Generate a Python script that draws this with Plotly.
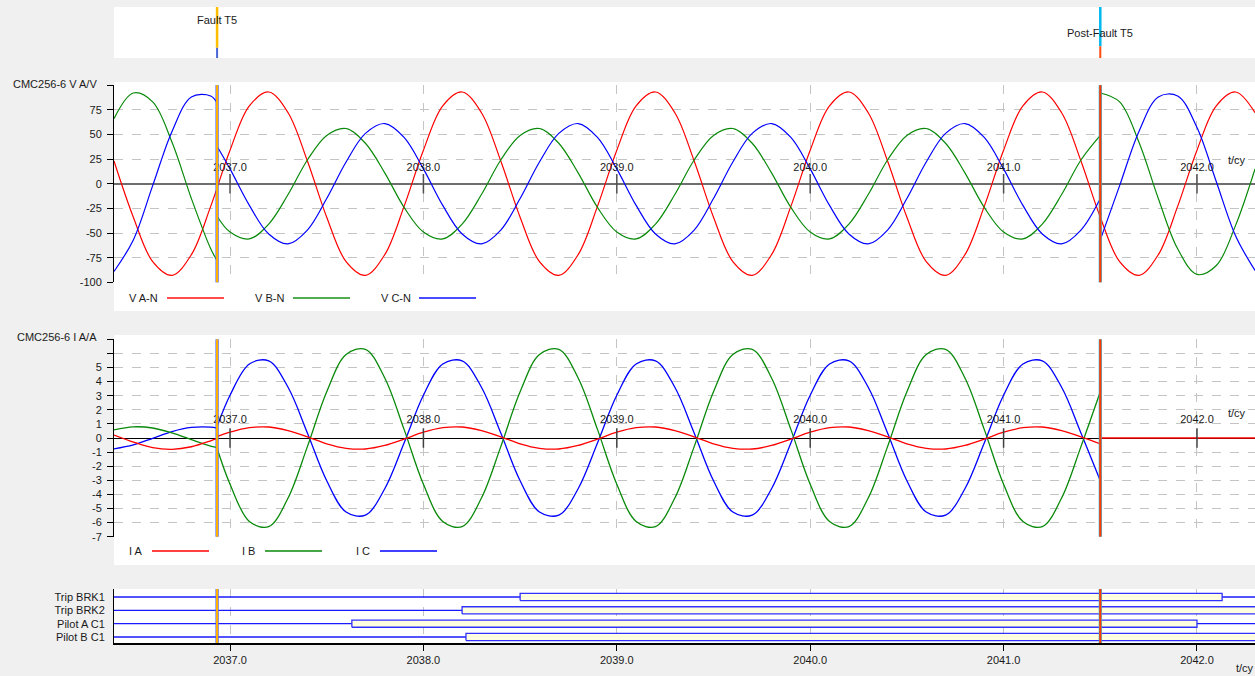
import plotly.graph_objects as go

W, H = 1255, 676

# ---- time base (cycles) ----
T_START, T_END, DT = 2036.4, 2042.3, 0.1
FAULT_T = 2036.933
POST_T = 2041.5

X_TICKS = [2037.0, 2038.0, 2039.0, 2040.0, 2041.0, 2042.0]
X_TICK_TEXT = ["2037.0", "2038.0", "2039.0", "2040.0", "2041.0", "2042.0"]
V_TICKS = [-100, -75, -50, -25, 0, 25, 50, 75, 100]
V_TICK_TEXT = ["-100", "-75", "-50", "-25", "0", "25", "50", "75", ""]
I_TICKS = [-7, -6, -5, -4, -3, -2, -1, 0, 1, 2, 3, 4, 5, 6, 7]
I_TICK_TEXT = ["-7", "-6", "-5", "-4", "-3", "-2", "-1", "0", "1", "2", "3", "4", "5", "", ""]

# ---- voltages, V (samples every 0.1 cycle) ----
VA = [23, -34, -79, -93, -72, -23, 34, 79, 93, 72,
      23, -34, -79, -93, -72, -23, 34, 79, 93, 72,
      23, -34, -79, -93, -72, -23, 34, 79, 93, 72,
      23, -34, -79, -93, -72, -23, 34, 79, 93, 72,
      23, -34, -79, -93, -72, -23, 34, 79, 93, 72,
      23, -34, -79, -93, -72, -23, 34, 79, 93, 72]

VB_PRE = [66, 92, 83, 42, -15, -66, -78]
VB_FAULT = [-33,
            -49, -56, -41, -11, 24, 49, 56, 41, 11, -24,
            -49, -56, -41, -11, 24, 49, 56, 41, 11, -24,
            -49, -56, -41, -11, 24, 49, 56, 41, 11, -24,
            -49, -56, -41, -11, 24, 49, 56, 41, 11, -24,
            -49, -56, -41, -11, 24, 49]
VB_POST = [92, 83, 42, -15, -66, -92, -83, -42, 15]

VC_PRE = [-89, -57, -2, 53, 88, 89, 82]
VC_FAULT = [38,
            15, -22, -51, -61, -47, -15, 22, 51, 61, 47,
            15, -22, -51, -61, -47, -15, 22, 51, 61, 47,
            15, -22, -51, -61, -47, -15, 22, 51, 61, 47,
            15, -22, -51, -61, -47, -15, 22, 51, 61, 47,
            15, -22, -51, -61, -47, -15]
VC_POST = [-57, -2, 53, 88, 89, 57, 2, -53, -88]

# ---- currents, A ----
IA_PRE = [0.20, -0.29, -0.68, -0.80, -0.62, -0.20, -0.03]
IA_FAULT = [0.09,
            0.41, 0.73, 0.78, 0.53, 0.08, -0.41, -0.73, -0.78, -0.53, -0.08,
            0.41, 0.73, 0.78, 0.53, 0.08, -0.41, -0.73, -0.78, -0.53, -0.08,
            0.41, 0.73, 0.78, 0.53, 0.08, -0.41, -0.73, -0.78, -0.53, -0.08,
            0.41, 0.73, 0.78, 0.53, 0.08, -0.41, -0.73, -0.78, -0.53, -0.08,
            0.41, 0.73, 0.78, 0.53, 0.08, -0.41]
IA_POST = [0, 0, 0, 0, 0, 0, 0, 0, 0]

IB_PRE = [0.57, 0.79, 0.71, 0.36, -0.12, -0.57, -0.67]
IB_FAULT = [-0.73,
            -3.28, -5.92, -6.29, -4.26, -0.61, 3.28, 5.92, 6.29, 4.26, 0.61,
            -3.28, -5.92, -6.29, -4.26, -0.61, 3.28, 5.92, 6.29, 4.26, 0.61,
            -3.28, -5.92, -6.29, -4.26, -0.61, 3.28, 5.92, 6.29, 4.26, 0.61,
            -3.28, -5.92, -6.29, -4.26, -0.61, 3.28, 5.92, 6.29, 4.26, 0.61,
            -3.28, -5.92, -6.29, -4.26, -0.61, 3.28]

IC_PRE = [-0.77, -0.49, -0.02, 0.46, 0.75, 0.77, 0.70]
IC_FAULT = [0.81,
            3.03, 5.25, 5.47, 3.60, 0.36, -3.03, -5.25, -5.47, -3.60, -0.36,
            3.03, 5.25, 5.47, 3.60, 0.36, -3.03, -5.25, -5.47, -3.60, -0.36,
            3.03, 5.25, 5.47, 3.60, 0.36, -3.03, -5.25, -5.47, -3.60, -0.36,
            3.03, 5.25, 5.47, 3.60, 0.36, -3.03, -5.25, -5.47, -3.60, -0.36,
            3.03, 5.25, 5.47, 3.60, 0.36, -3.03]

# ---- binary channels ----
BIN_NAMES = ["Trip BRK1", "Trip BRK2", "Pilot A C1", "Pilot B C1"]
BIN_ON = [2038.50, 2038.20, 2037.63, 2038.22]
BIN_OFF = [2042.13, None, 2042.00, None]   # None: still set at end of record

RED, GREEN, BLUE = "#ff0000", "#0a8a0a", "#0000ff"
FONT = "Liberation Sans, Arial, sans-serif"
TXT = "#1a1a1a"

# sample clock and segment helpers
N = int(round((T_END - T_START) / DT)) + 1
clock = [round(T_START + k * DT, 3) for k in range(N)]


def span(t0, t1):
    return [t0] + [t for t in clock if t0 < t < t1] + [t1]


def join(*parts):
    xs, ys = [], []
    for i, (t, v) in enumerate(parts):
        assert len(t) == len(v), (len(t), len(v))
        if i:
            xs.append(None)
            ys.append(None)
        xs += list(t)
        ys += list(v)
    return xs, ys


pre, flt, post = span(T_START, FAULT_T), span(FAULT_T, POST_T), span(POST_T, T_END)

volt = [
    ("V A-N", RED, (list(clock), VA)),
    ("V B-N", GREEN, join((pre, VB_PRE), (flt, VB_FAULT), (post, VB_POST))),
    ("V C-N", BLUE, join((pre, VC_PRE), (flt, VC_FAULT), (post, VC_POST))),
]
curr = [
    ("I A", RED, join((pre, IA_PRE), (flt, IA_FAULT), (post, IA_POST))),
    ("I B", GREEN, join((pre, IB_PRE), (flt, IB_FAULT))),
    ("I C", BLUE, join((pre, IC_PRE), (flt, IC_FAULT))),
]

fig = go.Figure()

for name, col, (xs, ys) in volt:
    fig.add_trace(go.Scatter(x=xs, y=ys, mode="lines", name=name, xaxis="x2", yaxis="y2",
                             line=dict(color=col, width=1.2, shape="spline"),
                             showlegend=False, hoverinfo="skip"))
for name, col, (xs, ys) in curr[::-1]:
    fig.add_trace(go.Scatter(x=xs, y=ys, mode="lines", name=name, xaxis="x3", yaxis="y3",
                             line=dict(color=col, width=1.3, shape="spline"),
                             showlegend=False, hoverinfo="skip"))

# tick marks crossing the time axis at zero
for xa, ya, col in (("x2", "y2", "#505050"), ("x3", "y3", "#404040")):
    fig.add_trace(go.Scatter(x=X_TICKS, y=[0] * len(X_TICKS), mode="markers", xaxis=xa, yaxis=ya,
                             marker=dict(symbol="line-ns", size=14, line=dict(color=col, width=1.5)),
                             showlegend=False, hoverinfo="skip"))

# binary channels: blue line when reset, framed yellow bar when set
HALF = 0.27
for i, (name, t_on, t_off) in enumerate(zip(BIN_NAMES, BIN_ON, BIN_OFF)):
    row = len(BIN_NAMES) - 1 - i
    lx, ly = [T_START, t_on], [row, row]
    if t_off is not None:
        lx += [None, t_off, T_END]
        ly += [None, row, row]
    fig.add_trace(go.Scatter(x=lx, y=ly, mode="lines", xaxis="x4", yaxis="y4",
                             line=dict(color="#1a1aff", width=1.3),
                             showlegend=False, hoverinfo="skip"))
    t_end = t_off if t_off is not None else T_END + 0.1
    fig.add_trace(go.Scatter(x=[t_on, t_end, t_end, t_on, t_on],
                             y=[row - HALF, row - HALF, row + HALF, row + HALF, row - HALF],
                             mode="lines", fill="toself", fillcolor="#ffffe0",
                             xaxis="x4", yaxis="y4", line=dict(color="#3030ff", width=1.3),
                             showlegend=False, hoverinfo="skip"))


def yp(px):
    return 1 - px / H


XDOM = [114 / W, 1.0]
tickfont = dict(family=FONT, size=11, color=TXT)
grid = dict(showgrid=True, gridcolor="#c4c4c4", griddash="dash", gridwidth=1)

V_DOM = [yp(282.3), yp(85.1)]
I_DOM = [yp(536.7), yp(339.3)]
B_DOM = [yp(643), yp(589)]

fig.update_layout(
    width=W, height=H, autosize=False,
    margin=dict(l=0, r=0, t=0, b=0, pad=0, autoexpand=False),
    paper_bgcolor="#f0f0f0", plot_bgcolor="white",
    hovermode=False, showlegend=False,
    font=dict(family=FONT, size=11, color=TXT),
    xaxis=dict(domain=XDOM, range=[T_START, T_END], anchor="y", visible=False, automargin=False),
    yaxis=dict(domain=[yp(58), yp(7)], range=[0, 1], anchor="x", visible=False, automargin=False),
    xaxis2=dict(domain=XDOM, range=[T_START, T_END], anchor="free",
                position=(V_DOM[0] + V_DOM[1]) / 2, side="top", automargin=False,
                tickvals=X_TICKS, ticktext=X_TICK_TEXT, ticks="outside", ticklen=8,
                tickcolor="rgba(0,0,0,0)", showline=False, zeroline=False, tickfont=tickfont, **grid),
    yaxis2=dict(domain=V_DOM, range=[-100, 100], anchor="x2", automargin=False,
                tickvals=V_TICKS, ticktext=V_TICK_TEXT, ticks="outside", ticklen=6,
                tickcolor="black", showline=True, linecolor="black", linewidth=1,
                zeroline=True, zerolinecolor="#6e6e6e", zerolinewidth=2,
                ticklabelstandoff=3, tickfont=tickfont, **grid),
    xaxis3=dict(domain=XDOM, range=[T_START, T_END], anchor="free",
                position=(I_DOM[0] + I_DOM[1]) / 2, side="top", automargin=False,
                tickvals=X_TICKS, ticktext=X_TICK_TEXT, ticks="outside", ticklen=11,
                tickcolor="rgba(0,0,0,0)", showline=False, zeroline=False, tickfont=tickfont, **grid),
    yaxis3=dict(domain=I_DOM, range=[-7, 7], anchor="x3", automargin=False,
                tickvals=I_TICKS, ticktext=I_TICK_TEXT, ticks="outside", ticklen=6,
                tickcolor="black", showline=True, linecolor="black", linewidth=1,
                zeroline=True, zerolinecolor="black", zerolinewidth=1,
                ticklabelstandoff=3, tickfont=tickfont, **grid),
    xaxis4=dict(domain=XDOM, range=[T_START, T_END], anchor="y4", side="bottom", automargin=False,
                tickvals=X_TICKS, ticktext=X_TICK_TEXT, ticks="outside", ticklen=6,
                tickcolor="black", showline=True, linecolor="black", linewidth=1.5,
                zeroline=False, tickfont=tickfont, **grid),
    yaxis4=dict(domain=B_DOM, range=[-0.45, 3.6], anchor="x4", automargin=False,
                tickvals=list(range(len(BIN_NAMES) - 1, -1, -1)), ticktext=BIN_NAMES,
                ticks="", showline=True, linecolor="black", linewidth=1,
                showgrid=False, zeroline=False, ticklabelstandoff=6, tickfont=tickfont),
)

shapes = []
# white panel backgrounds
for top, bot in ((7, 58), (82, 311), (335, 565), (589, 643)):
    shapes.append(dict(type="rect", xref="paper", yref="paper", x0=114 / W, x1=1,
                       y0=yp(bot), y1=yp(top), fillcolor="white", line=dict(width=0), layer="below"))


def vline(x, xref, yref, color, width, y0=0, y1=1):
    return dict(type="line", xref=xref, yref=yref, x0=x, x1=x, y0=y0, y1=y1,
                line=dict(color=color, width=width))


# cursor marks in the event strip
shapes += [
    vline(FAULT_T, "x", "y domain", "#ffbf00", 2.5, 0.2, 1),
    vline(FAULT_T, "x", "y domain", "#4a66d8", 2, 0, 0.2),
    vline(POST_T, "x", "y domain", "#00b8f0", 2.5, 0.23, 1),
    vline(POST_T, "x", "y domain", "#ff4a10", 2, 0, 0.23),
]
# cursor lines across the data panels
for ax in ("2", "3", "4"):
    shapes += [
        vline(FAULT_T, "x" + ax, "y" + ax + " domain", "#3a5cff", 3.2),
        vline(FAULT_T, "x" + ax, "y" + ax + " domain", "#ffb000", 2.2),
        vline(POST_T, "x" + ax, "y" + ax + " domain", "#20c0f0", 3.2),
        vline(POST_T, "x" + ax, "y" + ax + " domain", "#ff3c00", 2.2),
    ]

annotations = [
    dict(text="CMC256-6 V A/V", x=99 / W, y=yp(84), xanchor="right"),
    dict(text="CMC256-6 I A/A", x=99 / W, y=yp(337), xanchor="right"),
    dict(text="t/cy", x=1237 / W, y=yp(160), xanchor="center"),
    dict(text="t/cy", x=1237 / W, y=yp(413), xanchor="center"),
    dict(text="t/cy", x=1245 / W, y=yp(668), xanchor="center"),
]
for a in annotations:
    a.update(xref="paper", yref="paper", yanchor="middle", showarrow=False,
             font=dict(family=FONT, size=11, color=TXT))
annotations += [
    dict(text="Fault T5", x=FAULT_T, xref="x", y=yp(20), yref="paper", showarrow=False,
         xanchor="center", yanchor="middle", font=dict(family=FONT, size=11, color=TXT)),
    dict(text="Post-Fault T5", x=POST_T, xref="x", y=yp(33), yref="paper", showarrow=False,
         xanchor="center", yanchor="middle", font=dict(family=FONT, size=11, color=TXT)),
]

# legend strips: label followed by a line sample
legend_rows = [
    (volt, 298, [(127, 167), (253, 293), (379, 419)], 2.0, 0.7),
    (curr, 551, [(127, 152), (240, 265), (354, 380)], 1.5, 1.0),
]
for series, ypos, slots, lw, op in legend_rows:
    for (name, col, _), (tx, lx) in zip(series, slots):
        annotations.append(dict(text=name, x=tx / W, y=yp(ypos), xref="paper", yref="paper",
                                xanchor="left", yanchor="middle", showarrow=False,
                                font=dict(family=FONT, size=11, color=TXT)))
        shapes.append(dict(type="line", xref="paper", yref="paper", x0=lx / W, x1=(lx + 57) / W,
                           y0=yp(ypos), y1=yp(ypos), opacity=op, line=dict(color=col, width=lw)))

fig.update_layout(shapes=shapes, annotations=annotations)
fig.write_html("out.html")
